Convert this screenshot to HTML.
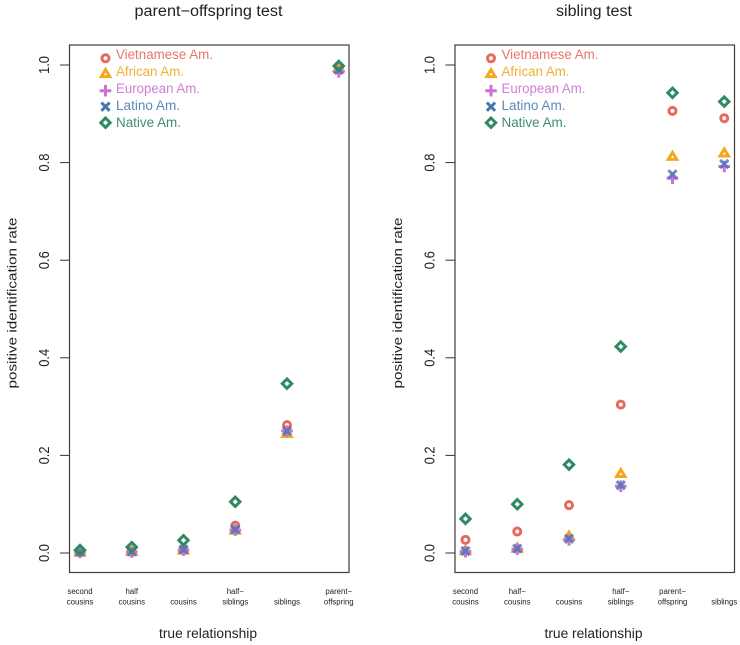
<!DOCTYPE html>
<html lang="en">
<head>
<meta charset="utf-8">
<title>Positive identification rate by true relationship</title>
<style>
html,body{margin:0;padding:0;background:#fff;width:740px;height:645px;overflow:hidden}
svg{display:block}
text{font-family:"Liberation Sans",sans-serif;fill:#222}
.mark{fill:none;stroke-width:3}
</style>
</head>
<body>
<svg id="chart" width="740" height="645" viewBox="0 0 740 645" xmlns="http://www.w3.org/2000/svg"></svg>
<script>
const seriesNames = ["Vietnamese Am.", "African Am.", "European Am.", "Latino Am.", "Native Am."];
const seriesKeys = ["vietnamese", "african", "european", "latino", "native"];
const yTicks = [0, 0.2, 0.4, 0.6, 0.8, 1];
const yTickLabels = ["0.0", "0.2", "0.4", "0.6", "0.8", "1.0"];

const leftTitle = "parent\u2212offspring test";
const leftCategories = [["second", "cousins"], ["half", "cousins"], ["", "cousins"], ["half\u2212", "siblings"], ["", "siblings"], ["parent\u2212", "offspring"]];
const leftVietnamese = [0.002, 0.003, 0.007, 0.056, 0.262, 0.990];
const leftAfrican = [0.002, 0.003, 0.006, 0.047, 0.245, 0.995];
const leftEuropean = [0.001, 0.002, 0.006, 0.047, 0.250, 0.986];
const leftLatino = [0.002, 0.003, 0.007, 0.048, 0.250, 0.990];
const leftNative = [0.006, 0.012, 0.026, 0.105, 0.347, 0.998];

const rightTitle = "sibling test";
const rightCategories = [["second", "cousins"], ["half\u2212", "cousins"], ["", "cousins"], ["half\u2212", "siblings"], ["parent\u2212", "offspring"], ["", "siblings"]];
const rightVietnamese = [0.027, 0.044, 0.098, 0.304, 0.906, 0.891];
const rightAfrican = [0.005, 0.010, 0.035, 0.163, 0.813, 0.820];
const rightEuropean = [0.003, 0.008, 0.027, 0.137, 0.768, 0.792];
const rightLatino = [0.004, 0.009, 0.029, 0.139, 0.776, 0.797];
const rightNative = [0.070, 0.100, 0.181, 0.423, 0.943, 0.925];

const markColors = ["#e8695a", "#f5a81c", "#d070d4", "#4577b2", "#2f8a62"];
const markOpacity = [1, 1, 1, 0.82, 1];
const legendColors = ["#e8766a", "#f2b035", "#d07fd6", "#5a8abc", "#3f8f6c"];
const NS = "http://www.w3.org/2000/svg";
const svg = document.getElementById("chart");

function yScale(v) { return 553 - v * 488; }
function xScale(i, left) { return left + 10.5 + i * 51.75; }

function add(parent, tag, attrs, text) {
  const el = document.createElementNS(NS, tag);
  for (const k in attrs) el.setAttribute(k, attrs[k]);
  if (text !== undefined) el.textContent = text;
  parent.appendChild(el);
  return el;
}

function drawMarker(parent, kind, x, y, color, opacity) {
  const g = add(parent, "g", { "class": "mark", stroke: color, opacity: opacity, transform: "translate(" + x + " " + y + ")" });
  if (kind === 0) add(g, "circle", { cx: 0, cy: 0, r: 3.5 });
  if (kind === 1) add(g, "path", { d: "M0 -3.9 L4.2 3.1 L-4.2 3.1 Z" });
  if (kind === 2) add(g, "path", { d: "M-5.8 0 H5.8 M0 -5.8 V5.8" });
  if (kind === 3) add(g, "path", { d: "M-4.1 -4.1 L4.1 4.1 M-4.1 4.1 L4.1 -4.1" });
  if (kind === 4) add(g, "path", { d: "M0 -4.7 L4.7 0 L0 4.7 L-4.7 0 Z" });
  return g;
}

function drawPanel(cfg) {
  const p = add(svg, "g", {});
  
  

  const title = add(p, "text", { x: cfg.left + 139, y: 16, "font-size": 15.5, "text-anchor": "middle", textLength: cfg.titleWidth, lengthAdjust: "spacingAndGlyphs" }, cfg.title);
  
  

  const frame = add(p, "rect", { x: cfg.left, y: 45, width: 279.5, height: 527.5, fill: "none", stroke: "#3c3c3c", "stroke-width": 1.2 });
  
  

  yTicks.forEach(function (t, i) {
    const y = yScale(t);
    const tick = add(p, "line", { x1: cfg.left - 9.5, x2: cfg.left, y1: y, y2: y, stroke: "#333", "stroke-width": 1 });
    
    
    const lx = cfg.left - 20.5;
    const label = add(p, "text", { x: lx, y: y, "font-size": 14.5, "text-anchor": "middle", textLength: 18, lengthAdjust: "spacingAndGlyphs", transform: "rotate(-90 " + lx + " " + y + ")" }, yTickLabels[i]);
    
    
  });

  const ly = 303;
  const lx = cfg.left - 53;
  const yTitle = add(p, "text", { x: lx, y: ly, "font-size": 13, "text-anchor": "middle", textLength: 171, lengthAdjust: "spacingAndGlyphs", transform: "rotate(-90 " + lx + " " + ly + ")" }, "positive identification rate");
  
  

  const xTitle = add(p, "text", { x: cfg.left + 138.5, y: 638, "font-size": 13.5, "text-anchor": "middle", textLength: 98, lengthAdjust: "spacingAndGlyphs" }, "true relationship");
  
  

  cfg.categories.forEach(function (c, i) {
    const x = xScale(i, cfg.left);
    c.forEach(function (line, j) {
      if (!line) return;
      const t = add(p, "text", { x: x, y: 594 + j * 10.3, "font-size": 7.8, "text-anchor": "middle", fill: "#333" }, line);
      
      
    });
  });

  cfg.series.forEach(function (values, s) {
    const g = add(p, "g", {});
    
    
    values.forEach(function (v, i) {
      const m = drawMarker(g, s, xScale(i, cfg.left), yScale(v), markColors[s], markOpacity[s]);
      
      
    });
  });

  const legend = add(p, "g", {});
  
  
  const legendY = [58.3, 73.5, 90.7, 106.7, 122.7];
  const textWidths = [97, 68, 84, 64, 65];
  seriesNames.forEach(function (name, s) {
    const m = drawMarker(legend, s, cfg.left + 36, legendY[s], markColors[s], 1);
    
    
    const t = add(legend, "text", { x: cfg.left + 46.5, y: 59 + s * 17, "font-size": 13.5, style: "fill:" + legendColors[s], textLength: textWidths[s], lengthAdjust: "spacingAndGlyphs" }, name);
    
    
  });
}

drawPanel({
  id: "parent-offspring",
  left: 69.5,
  title: leftTitle,
  titleWidth: 148,
  categories: leftCategories,
  series: [leftVietnamese, leftAfrican, leftEuropean, leftLatino, leftNative]
});
drawPanel({
  id: "sibling",
  left: 455,
  title: rightTitle,
  titleWidth: 76,
  categories: rightCategories,
  series: [rightVietnamese, rightAfrican, rightEuropean, rightLatino, rightNative]
});
</script>
</body>
</html>
